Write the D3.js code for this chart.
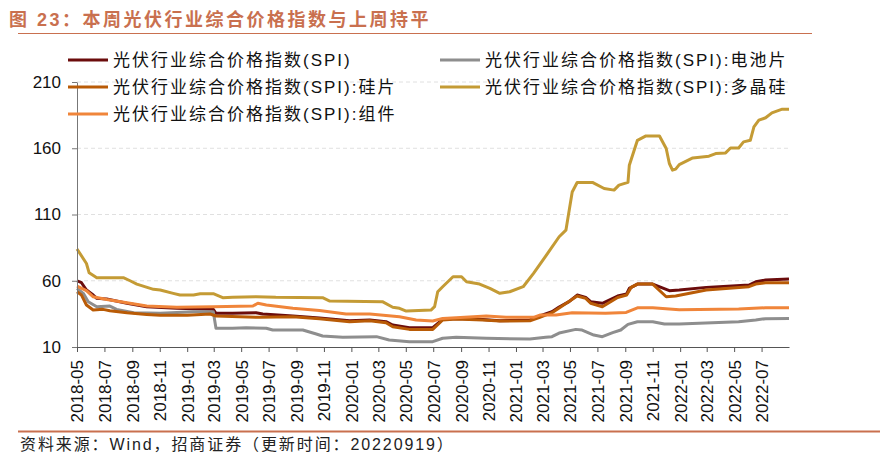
<!DOCTYPE html>
<html>
<head>
<meta charset="utf-8">
<script src="https://cdn.jsdelivr.net/npm/d3@7"></script>
<style>
  body { margin: 0; background: #fff; }
  svg { display: block; font-family: "Liberation Sans", Arial, "Noto Sans CJK SC", sans-serif; }
</style>
</head>
<body>
<svg id="chart" width="890" height="459"></svg>
<script>
// series data
const spiDates = ["2018-05-01","2018-05-11","2018-05-22","2018-06-06","2018-06-14","2018-07-06","2018-08-20","2018-10-03","2018-12-09","2019-02-28","2019-03-06","2019-04-12","2019-06-03","2019-06-18","2019-08-24","2019-10-22","2019-12-28","2020-02-11","2020-03-18","2020-04-02","2020-05-09","2020-06-30","2020-07-22","2020-08-21","2020-10-19","2020-11-26","2021-02-01","2021-02-23","2021-03-22","2021-04-07","2021-04-29","2021-05-17","2021-06-05","2021-06-16","2021-07-12","2021-08-15","2021-09-04","2021-09-10","2021-09-28","2021-11-01","2021-12-08","2021-12-30","2022-02-28","2022-06-03","2022-06-18","2022-07-10","2022-08-31"];
const spiValues = [60,58.5,53,49.2,46.7,46.2,43,40.4,39.2,38.4,35.4,35.4,35.9,34.9,33.4,31.8,29.8,30.4,29.1,26.6,24.6,24.6,30.8,31.6,30.8,29.8,30.4,33.4,36.6,40.2,44.2,49.2,47.4,44.2,43,48.5,50,54.2,57.5,57.5,52.5,53,55,56.8,59.2,60.5,61.3];

const cellDates = ["2018-05-01","2018-05-15","2018-05-26","2018-06-14","2018-07-13","2018-07-28","2018-09-04","2018-11-02","2019-01-15","2019-02-28","2019-03-06","2019-04-12","2019-05-12","2019-06-26","2019-07-10","2019-09-15","2019-10-15","2019-10-29","2019-12-13","2020-02-26","2020-03-25","2020-05-09","2020-06-30","2020-07-22","2020-08-21","2020-10-27","2021-02-01","2021-03-08","2021-03-22","2021-04-07","2021-05-14","2021-05-28","2021-06-23","2021-07-12","2021-08-04","2021-08-22","2021-09-07","2021-09-28","2021-11-01","2021-11-27","2021-12-30","2022-05-11","2022-06-18","2022-07-10","2022-08-31"];
const cellValues = [54.2,50.5,44.2,40.4,40.9,38.4,35.9,35.4,36.6,36.6,24.1,24.1,24.6,24.1,22.8,22.8,19.8,18.3,17.3,17.8,15.3,14,14,16.6,17.3,16.6,16,17.3,17.8,20.5,23.3,22.8,19,17.8,20.8,22.8,27.1,29.1,29.1,27.3,27.3,29.1,30.4,31.4,31.6];

const waferDates = ["2018-05-01","2018-05-11","2018-05-22","2018-06-06","2018-06-28","2018-07-13","2018-08-20","2018-10-03","2018-11-02","2019-01-01","2019-02-21","2019-03-06","2019-06-11","2019-08-24","2019-10-22","2019-12-28","2020-02-11","2020-03-18","2020-04-02","2020-05-09","2020-06-30","2020-07-22","2020-08-21","2020-10-19","2020-11-26","2021-02-01","2021-02-23","2021-03-22","2021-04-07","2021-05-17","2021-06-05","2021-06-16","2021-07-12","2021-08-15","2021-09-04","2021-09-14","2021-09-28","2021-11-01","2021-12-01","2021-12-22","2022-02-28","2022-06-03","2022-06-18","2022-07-10","2022-08-31"];
const waferValues = [51.7,49.2,41.7,37.9,38.4,37.4,35.9,34.6,33.9,33.9,34.9,33.4,32.4,32.9,31.3,29.1,29.8,28.3,25.3,23.3,23.3,30.4,31.1,30.4,29.6,29.8,32.4,35.9,39.5,48.5,46.7,43,40.4,47.4,49.2,55,57.5,57.5,47.9,48.5,53,55.5,57.5,58.5,58.5];

const polyDates = ["2018-05-01","2018-05-22","2018-05-28","2018-06-14","2018-08-12","2018-08-27","2018-09-11","2018-10-18","2018-11-02","2018-12-01","2018-12-16","2019-01-15","2019-01-30","2019-02-28","2019-03-21","2019-04-12","2019-06-03","2019-07-17","2019-10-29","2019-11-14","2020-03-10","2020-04-02","2020-04-17","2020-05-02","2020-05-16","2020-06-26","2020-07-04","2020-07-11","2020-07-22","2020-08-14","2020-09-02","2020-09-13","2020-10-12","2020-11-04","2020-11-26","2020-12-18","2021-01-17","2021-02-09","2021-03-15","2021-04-07","2021-04-22","2021-05-06","2021-05-17","2021-06-20","2021-07-16","2021-08-07","2021-08-18","2021-09-07","2021-09-10","2021-09-28","2021-10-17","2021-11-16","2021-12-01","2021-12-08","2021-12-15","2021-12-22","2021-12-30","2022-01-29","2022-03-06","2022-03-21","2022-04-12","2022-04-23","2022-05-11","2022-05-22","2022-06-06","2022-06-14","2022-06-25","2022-07-10","2022-07-24","2022-08-16","2022-08-31"];
const polyValues = [84,73,66,62.3,62.3,60,57.5,53.5,53,50.5,49.2,49.2,50.2,50.2,47.2,47.5,48,47.5,47.2,44.7,44.2,40,39.2,37.1,37.3,37.9,40.4,51.7,55.5,63,63,59.2,57.5,54.2,50.5,51.7,55.5,65.6,81.9,93.2,98.2,127,134.2,134.2,129.6,128.4,132.2,134.2,147.2,166,169.3,169.3,159.8,148.5,143.5,144.2,147.7,152.7,154,156,156.5,160.2,160.2,164.8,166,176.1,181.2,183,186.7,189.5,189.5];

const moduleDates = ["2018-05-01","2018-05-22","2018-06-06","2018-07-06","2018-08-20","2018-10-03","2018-12-09","2019-02-28","2019-05-27","2019-06-07","2019-06-26","2019-08-24","2019-10-22","2019-12-20","2020-02-11","2020-04-17","2020-05-24","2020-06-30","2020-07-22","2020-08-21","2020-10-27","2020-12-10","2021-02-09","2021-02-23","2021-03-31","2021-05-06","2021-07-19","2021-09-03","2021-09-28","2021-11-01","2021-12-30","2022-05-11","2022-07-10","2022-08-31"];
const moduleValues = [56,52.5,47.9,45.9,43.4,40.9,40,40.4,40.9,43,41.7,39.2,37.6,34.9,34.9,32.9,30.4,29.6,31.6,32.1,33.4,32.4,32.4,34.1,34.1,35.9,35.4,36.1,39.6,39.6,38.1,38.6,39.6,39.6];

const seriesNames = ["光伏行业综合价格指数(SPI)","光伏行业综合价格指数(SPI):电池片","光伏行业综合价格指数(SPI):硅片","光伏行业综合价格指数(SPI):多晶硅","光伏行业综合价格指数(SPI):组件"];
const yTicks = [10, 60, 110, 160, 210];

const titleText = "图 23：本周光伏行业综合价格指数与上周持平";
const sourceText = "资料来源：Wind，招商证券（更新时间：20220919）";

const parse = d3.timeParse("%Y-%m-%d");
const zip = (ds, vs) => ds.map((d, i) => ({ date: parse(d), value: vs[i] }));

const series = [
  { name: seriesNames[0], color: "#6b0c0c", values: zip(spiDates, spiValues) },
  { name: seriesNames[1], color: "#8e8e8e", values: zip(cellDates, cellValues) },
  { name: seriesNames[2], color: "#b95b06", values: zip(waferDates, waferValues) },
  { name: seriesNames[3], color: "#c49b35", values: zip(polyDates, polyValues) },
  { name: seriesNames[4], color: "#f0853a", values: zip(moduleDates, moduleValues) },
];

const svg = d3.select("#chart");
const accent = "#c9704f";

// title + rule
svg.append("text")
  .attr("x", 9).attr("y", 26)
  .attr("fill", accent)
  .style("font-size", "18px").style("font-weight", "bold")
  .style("letter-spacing", "2.5px")
  .text(titleText);
svg.append("line")
  .attr("x1", 18).attr("x2", 812).attr("y1", 33.5).attr("y2", 33.5)
  .attr("stroke", accent).attr("stroke-width", 1);

const margin = { left: 77, right: 101, top: 82, bottom: 112 };
const width = 890 - margin.left - margin.right;
const height = 459 - margin.top - margin.bottom;

const g = svg.append("g").attr("transform", `translate(${margin.left},${margin.top})`);

const x = d3.scaleTime()
  .domain([parse("2018-05-01"), parse("2022-08-31")])
  .range([0, width]);
const y = d3.scaleLinear().domain([10, 210]).range([height, 0]);

// dashed grid
g.append("g")
  .selectAll("line")
  .data(yTicks.slice(1))
  .join("line")
  .attr("x1", 0).attr("x2", width)
  .attr("y1", d => y(d)).attr("y2", d => y(d))
  .attr("stroke", "#e0e0e0")
  .attr("stroke-dasharray", "4,3");

// lines
const line = d3.line().x(d => x(d.date)).y(d => y(d.value));
series.forEach(s => {
  g.append("path")
    .datum(s.values)
    .attr("fill", "none")
    .attr("stroke", s.color)
    .attr("stroke-width", 3)
    .attr("stroke-linejoin", "round")
    .attr("d", line);
});

// axes
const yAxis = g.append("g")
  .call(d3.axisLeft(y).tickValues(yTicks).tickSize(5).tickSizeOuter(0));
yAxis.select(".domain").attr("stroke", "#777");
yAxis.selectAll(".tick line").attr("stroke", "#777");
yAxis.selectAll("text").style("font-size", "17px").attr("fill", "#111").attr("x", -16);

const xAxis = g.append("g")
  .attr("transform", `translate(0,${height})`)
  .call(d3.axisBottom(x)
    .ticks(d3.timeMonth.every(2))
    .tickFormat(d3.timeFormat("%Y-%m"))
    .tickSize(5).tickSizeOuter(0));
xAxis.select(".domain").attr("stroke", "#555");
xAxis.selectAll(".tick line").attr("stroke", "#555");
xAxis.selectAll("text")
  .style("font-size", "17px")
  .attr("fill", "#111")
  .attr("transform", "rotate(-90)")
  .attr("text-anchor", "end")
  .attr("x", -13).attr("y", 0).attr("dy", "0.35em");

// legend
const legendPos = [[68, 60], [440, 60], [68, 87], [440, 87], [68, 114]];
series.forEach((s, i) => {
  const [lx, ly] = legendPos[i];
  const lg = svg.append("g").attr("transform", `translate(${lx},${ly})`);
  lg.append("line")
    .attr("x1", 0).attr("x2", 40)
    .attr("stroke", s.color).attr("stroke-width", 3);
  lg.append("text")
    .attr("x", 45).attr("dy", "0.35em")
    .style("font-size", "17px")
    .style("letter-spacing", "2px")
    .attr("fill", "#111")
    .text(s.name);
});

// source footer
svg.append("line")
  .attr("x1", 18).attr("x2", 880).attr("y1", 431.5).attr("y2", 431.5)
  .attr("stroke", accent).attr("stroke-width", 2);
svg.append("text")
  .attr("x", 20).attr("y", 450)
  .style("font-size", "16px")
  .style("letter-spacing", "1.9px")
  .attr("fill", "#222")
  .text(sourceText);
</script>
</body>
</html>
